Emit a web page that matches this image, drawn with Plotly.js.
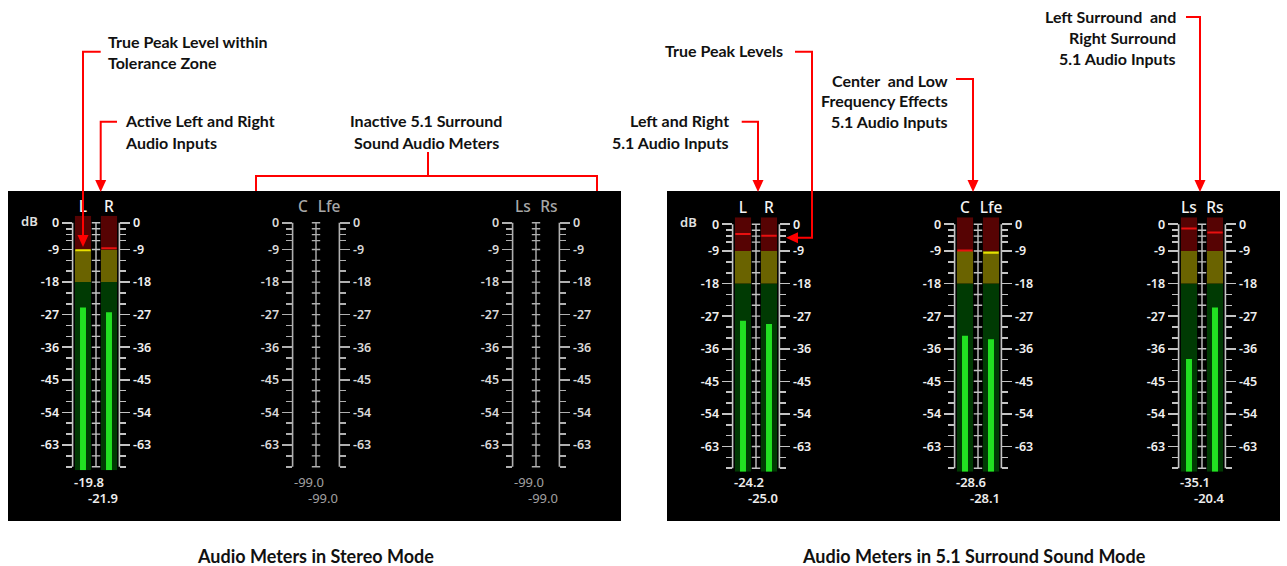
<!DOCTYPE html>
<html><head><meta charset="utf-8">
<script src="https://cdn.plot.ly/plotly-3.0.1.min.js"></script>
<style>html,body{margin:0;padding:0;background:#fff}#chart{width:1287px;height:566px}</style>
</head><body><div id="chart"></div>
<script>
const W = 1287, H = 566;

// ---------- DATA ----------
const meterPairs = [["L", "R"], ["C", "Lfe"], ["Ls", "Rs"]];
// channel order: L, R, C, Lfe, Ls, Rs  (dB)
const stereoLevel    = [-25.0, -26.3, null, null, null, null];
const stereoPeak     = [-9.2, -8.6, null, null, null, null];
const stereoReadout  = [-19.8, -21.9, -99.0, -99.0, -99.0, -99.0];
const stereoActive   = [true, false, false];
const surroundLevel   = [-28.3, -29.2, -32.4, -33.4, -38.8, -24.6];
const surroundPeak    = [-3.3, -3.85, -8.8, -9.5, -1.4, -2.8];
const surroundReadout = [-24.2, -25.0, -28.6, -28.1, -35.1, -20.4];
const surroundActive  = [true, true, true];
const majorTicks = [0, -9, -18, -27, -36, -45, -54, -63];
const majorLabels = ["0", "-9", "-18", "-27", "-36", "-45", "-54", "-63"];
const minorTicks = [-2, -4, -6, -12, -15, -21, -24, -30, -33, -39, -42, -48, -51, -57, -60, -66, -69];
const zoneEdges = [-70, -18, -9, 2.4];      // normal / tolerance / over
const toleranceLimit = -9;
const panelTitles = ["Audio Meters in Stereo Mode", "Audio Meters in 5.1 Surround Sound Mode"];

// ---------- STYLE / LAYOUT HELPERS ----------
const zoneColors = ["#003a03", "#6a6300", "#560303"];
const levelColor = "#22e022";
const peakOver = "#e81010", peakTol = "#e8e000";
const meterFont = "Noto Sans";
const panels = [
  {left: 8, right: 621, top: 191, bottom: 521, centers: [96, 316, 536], yAt9: 249.5,
   level: stereoLevel, peak: stereoPeak, readout: stereoReadout, active: stereoActive, title: panelTitles[0], titleX: 315},
  {left: 667, right: 1280, top: 191, bottom: 521, centers: [756, 978, 1202], yAt9: 251,
   level: surroundLevel, peak: surroundPeak, readout: surroundReadout, active: surroundActive, title: panelTitles[1], titleX: 974}
];
const pxPerUnit = 3.62, topCompress = 0.82;
function pos(db) { return db >= -9 ? -9 + (db + 9) * topCompress : db; }
const X = x => x / W, Y = y => 1 - y / H;
const P = (x, y) => X(x) + "," + Y(y);

const traces = [], shapes = [], annotations = [];
const layout = {
  width: W, height: H, margin: {l: 0, r: 0, t: 0, b: 0},
  paper_bgcolor: "#ffffff", plot_bgcolor: "rgba(0,0,0,0)",
  showlegend: false, barmode: "overlay", hovermode: false
};

const yLo = pos(zoneEdges[0]), yHi = pos(zoneEdges[3]);
const rulerVals = majorTicks.concat(minorTicks).map(pos).sort((a, b) => a - b);

let g = 0;
panels.forEach((pn, pi) => {
  shapes.push({type: "rect", xref: "paper", yref: "paper", x0: X(pn.left), x1: X(pn.right),
    y0: Y(pn.bottom), y1: Y(pn.top), fillcolor: "#000", line: {width: 0}, layer: "below"});
  const pixTop = pn.yAt9 - (yHi + 9) * pxPerUnit, pixBot = pn.yAt9 - (yLo + 9) * pxPerUnit;
  const ydom = [Y(pixBot), Y(pixTop)];
  annotations.push({xref: "paper", yref: "paper", x: X(pn.left + 21), y: Y(pn.yAt9 - 29), text: "dB",
    showarrow: false, xanchor: "center", yanchor: "middle",
    font: {family: meterFont, size: 13, color: "#e0e0e0", weight: 600}});
  annotations.push({xref: "paper", yref: "paper", x: X(pn.titleX), y: Y(556), text: pn.title,
    showarrow: false, xanchor: "center", yanchor: "middle",
    font: {family: "Lato", size: 18, color: "#111", weight: 700}});

  pn.centers.forEach((c, m) => {
    const xn = g + 1, yl = 2 * g + 1, yr = 2 * g + 2;
    const xa = "x" + xn, ya = "y" + yl, yb = "y" + yr;
    const act = pn.active[m];
    const tickCol = act ? "#c4c4c4" : "#b0b0b0";
    const lblCol = act ? "#f0f0f0" : "#d8d8d8";
    layout["xaxis" + xn] = {domain: [X(c - 23.4), X(c + 23.4)], range: [-0.4, 1.4], anchor: ya, side: "top",
      tickmode: "array", tickvals: [0, 1], ticktext: meterPairs[m], ticks: "", showgrid: false,
      zeroline: false, showline: false, fixedrange: true,
      tickfont: {family: meterFont, size: 15.5, color: act ? "#f4f4f4" : "#a8a8a8", weight: 500}};
    const yBase = {domain: ydom, range: [yLo, yHi], tickmode: "array", tickvals: majorTicks.map(pos),
      ticktext: majorLabels, ticks: "outside", ticklen: 10, tickwidth: 1.6, tickcolor: tickCol,
      minor: {tickmode: "array", tickvals: minorTicks.map(pos), ticks: "outside", ticklen: 6, tickwidth: 1.6, tickcolor: tickCol},
      showgrid: false, zeroline: false, showline: false, fixedrange: true,
      tickfont: {family: meterFont, size: 12.5, color: lblCol, weight: 600}};
    layout["yaxis" + yl] = Object.assign({}, yBase, {anchor: xa, side: "left"});
    layout["yaxis" + yr] = Object.assign({}, yBase, {anchor: xa, side: "right", overlaying: ya});
    [0, 1].forEach(d => shapes.push({type: "line", xref: xa + " domain", yref: ya, x0: d, x1: d,
      y0: pos(majorTicks[0]), y1: pos(minorTicks[minorTicks.length - 1]), line: {color: tickCol, width: 1.6}}));
    traces.push({type: "scatter", xaxis: xa, yaxis: yb, x: rulerVals.map(() => 0.5), y: rulerVals,
      mode: "lines+markers", line: {color: tickCol, width: 1.4},
      marker: {symbol: "line-ew", size: 6, line: {color: tickCol, width: 1.4}}, hoverinfo: "skip"});

    const i0 = 2 * m, chIdx = [i0, i0 + 1];
    if (act) {
      for (let z = 0; z < 3; z++) {
        traces.push({type: "bar", xaxis: xa, yaxis: ya, x: [0, 1],
          base: [pos(zoneEdges[z]), pos(zoneEdges[z])],
          y: [pos(zoneEdges[z + 1]) - pos(zoneEdges[z]), pos(zoneEdges[z + 1]) - pos(zoneEdges[z])],
          width: 0.62, marker: {color: zoneColors[z], line: {width: 0}}, hoverinfo: "skip"});
      }
      const lv = chIdx.map(i => pn.level[i]);
      traces.push({type: "bar", xaxis: xa, yaxis: ya, x: [0, 1], base: [yLo, yLo],
        y: lv.map(v => pos(v) - yLo), width: 0.23, marker: {color: levelColor, line: {width: 0}}, hoverinfo: "skip"});
      const pk = chIdx.map(i => pn.peak[i]);
      traces.push({type: "scatter", mode: "markers", xaxis: xa, yaxis: ya, x: [0, 1], y: pk.map(pos),
        marker: {symbol: "line-ew", size: 11, line: {width: 2, color: pk.map(v => v > toleranceLimit ? peakOver : peakTol)}},
        hoverinfo: "skip"});
    } else {
      traces.push({type: "scatter", mode: "none", xaxis: xa, yaxis: ya, x: [0.5], y: [yLo], hoverinfo: "skip"});
    }
    chIdx.forEach((i, k) => annotations.push({xref: xa, yref: "paper", x: 0.5, xshift: k ? 7 : -7,
      y: Y(k ? 498 : 482), text: pn.readout[i].toFixed(1), showarrow: false, xanchor: "center", yanchor: "middle",
      font: {family: meterFont, size: 13, color: act ? "#ececec" : "#a0a0a0", weight: act ? 600 : 400}}));
    g++;
  });
});

// ---------- CALLOUTS ----------
const red = "#ff0000";
function line(d) { shapes.push({type: "path", xref: "paper", yref: "paper", path: d, line: {color: red, width: 2}}); }
function arrowDown(x, tip) { shapes.push({type: "path", xref: "paper", yref: "paper",
  path: "M" + P(x - 5.5, tip - 12) + "L" + P(x + 5.5, tip - 12) + "L" + P(x, tip) + "Z", fillcolor: red, line: {width: 0}}); }
function arrowLeft(tip, y) { shapes.push({type: "path", xref: "paper", yref: "paper",
  path: "M" + P(tip + 12, y - 5.5) + "L" + P(tip + 12, y + 5.5) + "L" + P(tip, y) + "Z", fillcolor: red, line: {width: 0}}); }
function label(lines, x, y0, anchor, dy) {
  lines.forEach((t, i) => annotations.push({xref: "paper", yref: "paper", x: X(x), y: Y(y0 + i * dy), text: t,
    showarrow: false, xanchor: anchor, yanchor: "middle",
    font: {family: "Lato", size: 16, color: "#111", weight: 700}}));
}
label(["True Peak Level within", "Tolerance Zone"], 106, 42, "left", 20.5);
line("M" + P(100.7, 51.7) + "L" + P(83, 51.7) + "L" + P(83, 236)); arrowDown(83, 247);
label(["Active Left and Right", "Audio Inputs"], 123, 121, "left", 21);
line("M" + P(117, 121.7) + "L" + P(100.7, 121.7) + "L" + P(100.7, 181)); arrowDown(100.7, 192);
label(["Inactive 5.1 Surround", "Sound Audio Meters"], 426, 121, "center", 21);
line("M" + P(428, 152) + "L" + P(428, 176));
line("M" + P(256, 191) + "L" + P(256, 176) + "L" + P(597, 176) + "L" + P(597, 191));
label(["True Peak Levels"], 785, 51, "right", 21);
line("M" + P(795, 51.7) + "L" + P(812, 51.7) + "L" + P(812, 237.7) + "L" + P(797, 237.7)); arrowLeft(786, 237.7);
label(["Left and Right", "5.1 Audio Inputs"], 731, 121, "right", 21);
line("M" + P(741.7, 121.7) + "L" + P(758, 121.7) + "L" + P(758, 181)); arrowDown(758, 192);
label(["Center  and Low", "Frequency Effects", "5.1 Audio Inputs"], 950, 80, "right", 21);
line("M" + P(956, 79) + "L" + P(973, 79) + "L" + P(973, 181)); arrowDown(973, 192);
label(["Left Surround  and", "Right Surround", "5.1 Audio Inputs"], 1178, 17, "right", 20.5);
line("M" + P(1186, 17) + "L" + P(1200, 17) + "L" + P(1200, 181)); arrowDown(1200, 192);

layout.shapes = shapes;
layout.annotations = annotations;
Plotly.newPlot("chart", traces, layout, {staticPlot: true, displayModeBar: false});
</script></body></html>
